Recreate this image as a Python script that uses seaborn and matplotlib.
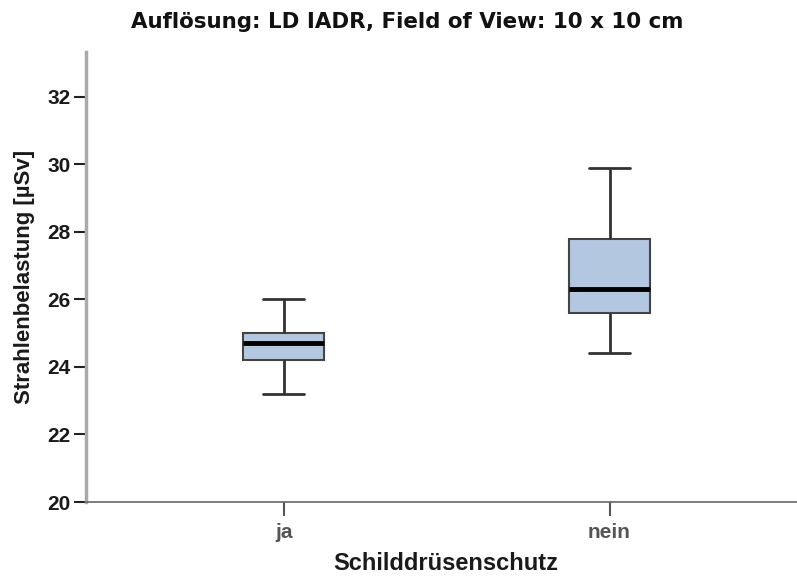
import matplotlib
matplotlib.use("Agg")
import matplotlib.pyplot as plt
import seaborn as sns
import pandas as pd

# Five-number summaries per group (min, Q1, median, Q3, max) in µSv
groups = ["ja", "nein"]
ja_values = [23.2, 24.2, 24.7, 25.0, 26.0]
nein_values = [24.4, 25.6, 26.3, 27.8, 29.9]
y_ticks = [20, 22, 24, 26, 28, 30, 32]

df = pd.DataFrame({
    "Schilddrüsenschutz": ["ja"] * len(ja_values) + ["nein"] * len(nein_values),
    "Strahlenbelastung": ja_values + nein_values,
})

sns.set_style("white")
plt.rcParams["font.family"] = ["Liberation Sans", "DejaVu Sans"]

fig = plt.figure(figsize=(7.97, 5.76), dpi=100)
ax = fig.add_axes([86 / 797, 1 - 502 / 576, 1 - 86 / 797 + 0.01, (502 - 52) / 576])

line_col = "#333333"
sns.boxplot(
    data=df, x="Schilddrüsenschutz", y="Strahlenbelastung", order=groups,
    width=0.25, color="#B3C8E0", saturation=1, whis=1.5, fliersize=0,
    boxprops=dict(edgecolor="#444444", linewidth=1.5),
    whiskerprops=dict(color=line_col, linewidth=2),
    capprops=dict(color=line_col, linewidth=2),
    medianprops=dict(color="black", linewidth=3.5),
    ax=ax,
)

ax.set_xlim(-0.607, 1.6)
ax.set_ylim(20, 33.33)
ax.set_yticks(y_ticks)
ax.set_yticklabels([str(t) for t in y_ticks], fontsize=15, fontweight="bold", color="#1a1a1a")
ax.set_xticks(range(len(groups)))
ax.set_xticklabels(groups, fontsize=15, fontweight="bold", color="#555555")
ax.tick_params(axis="y", length=9, width=1.5, color="#222222", pad=2, left=True)
ax.tick_params(axis="x", length=10, width=1.5, color="#555555", pad=5, bottom=True)

for side in ("top", "right"):
    ax.spines[side].set_visible(False)
ax.spines["left"].set_color("#aaaaaa")
ax.spines["left"].set_linewidth(2.5)
ax.spines["bottom"].set_color("#666666")
ax.spines["bottom"].set_linewidth(1.2)

ax.set_xlabel("Schilddrüsenschutz", fontsize=17, fontweight="bold", color="#1a1a1a", labelpad=7)
ax.set_ylabel("Strahlenbelastung [µSv]", fontsize=16, fontweight="bold", color="#1a1a1a", labelpad=9)

fig.text(407 / 797, 1 - 22 / 576, "Auflösung: LD IADR, Field of View: 10 x 10 cm",
         ha="center", va="center", fontsize=15.4, fontweight="bold",
         family=["DejaVu Sans"], color="#111111")

fig.savefig("out.png", dpi=100)
